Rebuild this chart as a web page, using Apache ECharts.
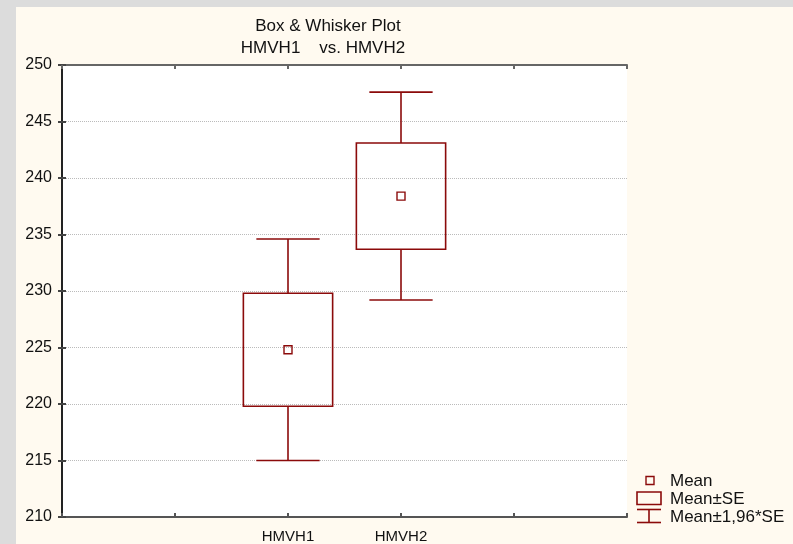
<!DOCTYPE html>
<html><head><meta charset="utf-8">
<script src="https://cdn.jsdelivr.net/npm/echarts@6/dist/echarts.min.js"></script>
<style>
html,body{margin:0;padding:0;background:#dcdcdc;}
#bg{position:absolute;left:16px;top:7px;width:777px;height:537px;background:#fffaf0;}
#c{position:absolute;left:0;top:0;width:793px;height:544px;}
</style>
</head><body><div id="bg"></div><div id="c"></div>
<script>
// ---- data ----
const categories = ['HMVH1', 'HMVH2'];
const categorySlots = [2, 3];          // x-axis tick where each category sits (axis runs 0..5)
const whiskerLow  = [215.0, 229.2];    // Mean - 1.96*SE
const boxLow      = [219.8, 233.7];    // Mean - SE
const means       = [224.8, 238.4];    // Mean
const boxHigh     = [229.8, 243.1];    // Mean + SE
const whiskerHigh = [234.6, 247.6];    // Mean + 1.96*SE
const yTicks = [210, 215, 220, 225, 230, 235, 240, 245, 250];
const titleLines = ['Box & Whisker Plot', 'HMVH1    vs. HMVH2'];
const legendLabels = ['Mean', 'Mean\u00B1SE', 'Mean\u00B11,96*SE'];

const RED = '#8b0a0a';
const FONT = 'Liberation Sans, Arial, sans-serif';

const seriesData = categories.map((c, i) => [categorySlots[i], whiskerLow[i], boxLow[i], means[i], boxHigh[i], whiskerHigh[i]]);

const chart = echarts.init(document.getElementById('c'), null, {renderer: 'canvas'});

function renderItem(params, api) {
  const x = api.value(0);
  const pWL = api.coord([x, api.value(1)]);
  const pBL = api.coord([x, api.value(2)]);
  const pM  = api.coord([x, api.value(3)]);
  const pBH = api.coord([x, api.value(4)]);
  const pWH = api.coord([x, api.value(5)]);
  const boxW = api.size([0.79, 0])[0];
  const capW = api.size([0.56, 0])[0];
  const cx = pM[0];
  const ls = {stroke: RED, lineWidth: 1.6, fill: null};
  return {
    type: 'group',
    children: [
      {type: 'rect', shape: {x: cx - boxW / 2, y: pBH[1], width: boxW, height: pBL[1] - pBH[1]}, style: {stroke: RED, lineWidth: 1.6, fill: 'none'}},
      {type: 'line', shape: {x1: cx, y1: pBH[1], x2: cx, y2: pWH[1]}, style: ls},
      {type: 'line', shape: {x1: cx - capW / 2, y1: pWH[1], x2: cx + capW / 2, y2: pWH[1]}, style: ls},
      {type: 'line', shape: {x1: cx, y1: pBL[1], x2: cx, y2: pWL[1]}, style: ls},
      {type: 'line', shape: {x1: cx - capW / 2, y1: pWL[1], x2: cx + capW / 2, y2: pWL[1]}, style: ls},
      {type: 'rect', shape: {x: cx - 4, y: pM[1] - 4, width: 8, height: 8}, style: {stroke: RED, lineWidth: 1.4, fill: 'none'}}
    ]
  };
}

const yMin = yTicks[0], yMax = yTicks[yTicks.length - 1], yStep = yTicks[1] - yTicks[0];

const option = {
  backgroundColor: 'transparent',
  animation: false,
  grid: {left: 62, top: 65, right: 166, bottom: 26.5, show: true, backgroundColor: '#ffffff', borderWidth: 0},
  xAxis: [
    {
      type: 'value', min: 0, max: 5, interval: 1, position: 'bottom',
      axisLine: {show: true, lineStyle: {color: '#555', width: 2}},
      axisTick: {show: true, inside: true, length: 4, lineStyle: {color: '#555', width: 2}},
      splitLine: {show: false},
      axisLabel: {
        show: true, margin: 12, color: '#111', fontSize: 15, fontFamily: FONT,
        showMinLabel: true, showMaxLabel: true,
        formatter: v => { const i = categorySlots.indexOf(v); return i >= 0 ? categories[i] : ''; }
      }
    },
    {
      type: 'value', min: 0, max: 5, interval: 1, position: 'top',
      axisLine: {show: true, lineStyle: {color: '#666', width: 2}},
      axisTick: {show: true, inside: true, length: 4, lineStyle: {color: '#666', width: 2}},
      splitLine: {show: false}, axisLabel: {show: false}
    }
  ],
  yAxis: [
    {
      type: 'value', min: yMin, max: yMax, interval: yStep, position: 'left',
      axisLine: {show: true, lineStyle: {color: '#222', width: 1.5}},
      axisTick: {show: true, inside: true, length: 4, lineStyle: {color: '#444', width: 2}},
      splitLine: {show: true, lineStyle: {color: '#bbbbbb', type: 'dotted', width: 1}},
      axisLabel: {show: true, margin: 10, color: '#111', fontSize: 16, fontFamily: FONT}
    },
    {
      type: 'value', min: yMin, max: yMax, interval: yStep, position: 'right',
      axisLine: {show: true, lineStyle: {color: '#222', width: 2}},
      axisTick: {show: true, inside: true, length: 4, lineStyle: {color: '#444', width: 2}},
      splitLine: {show: false}, axisLabel: {show: false}
    }
  ],
  series: [{
    type: 'custom',
    name: 'Box',
    xAxisIndex: 0, yAxisIndex: 0,
    renderItem: renderItem,
    encode: {x: 0, y: [1, 2, 3, 4, 5]},
    data: seriesData,
    z: 5
  }],
  graphic: [
    {type: 'text', x: 328, y: 26, style: {text: titleLines[0], fill: '#111', font: '17px ' + FONT, textAlign: 'center', textVerticalAlign: 'middle'}},
    {type: 'text', x: 323, y: 48, style: {text: titleLines[1], fill: '#111', font: '17px ' + FONT, textAlign: 'center', textVerticalAlign: 'middle'}},
    // legend
    {type: 'rect', shape: {x: 646, y: 476.5, width: 8, height: 8}, style: {stroke: RED, lineWidth: 1.4, fill: 'none'}},
    {type: 'rect', shape: {x: 637, y: 492, width: 24, height: 12.5}, style: {stroke: RED, lineWidth: 1.6, fill: 'none'}},
    {type: 'line', shape: {x1: 637, y1: 509.5, x2: 661, y2: 509.5}, style: {stroke: RED, lineWidth: 1.6}},
    {type: 'line', shape: {x1: 649, y1: 509.5, x2: 649, y2: 522.5}, style: {stroke: RED, lineWidth: 1.6}},
    {type: 'line', shape: {x1: 637, y1: 522.5, x2: 661, y2: 522.5}, style: {stroke: RED, lineWidth: 1.6}},
    {type: 'text', x: 670, y: 481, style: {text: legendLabels[0], fill: '#111', font: '17px ' + FONT, textVerticalAlign: 'middle'}},
    {type: 'text', x: 670, y: 499.5, style: {text: legendLabels[1], fill: '#111', font: '17px ' + FONT, textVerticalAlign: 'middle'}},
    {type: 'text', x: 670, y: 517.5, style: {text: legendLabels[2], fill: '#111', font: '17px ' + FONT, textVerticalAlign: 'middle'}}
  ]
};
chart.setOption(option);
</script>
</body></html>
